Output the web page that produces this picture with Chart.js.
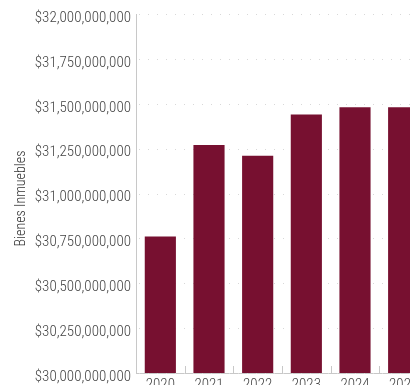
<!DOCTYPE html>
<html><head><meta charset="utf-8">
<script src="https://cdn.jsdelivr.net/npm/chart.js@4"></script>
<style>
html,body{margin:0;padding:0;overflow:hidden;background:#fff;width:410px;height:385px;}
#wrap{position:absolute;left:0;top:0;width:428px;height:398px;}
</style></head><body>
<div id="wrap"><canvas id="c" width="428" height="398"></canvas></div>
<script>
const categories = ["2020","2021","2022","2023","2024","2025"];
const bienesInmuebles = [30760000000, 31270000000, 31210000000, 31440000000, 31480000000, 31480000000];
const yMin = 30000000000, yMax = 32000000000, yStep = 250000000;
const yTitle = "Bienes Inmuebles";
const FONT = "Roboto Condensed";
new Chart(document.getElementById('c'), {
  type: 'bar',
  data: { labels: categories, datasets: [{ label: yTitle, data: bienesInmuebles, backgroundColor: '#771030', borderWidth: 0, barPercentage: 0.8, categoryPercentage: 0.8 }] },
  options: {
    responsive: false, animation: false, devicePixelRatio: 1,
    layout: { padding: { top: 9, right: 0, left: 0, bottom: 0 } },
    plugins: { legend: { display: false }, tooltip: { enabled: false } },
    scales: {
      x: {
        grid: { display: false, drawTicks: false },
        border: { color: '#c8c8c8' },
        ticks: { color: '#444', font: { family: FONT, size: 15, weight: 300 }, padding: 3 },
        afterFit: s => { s.height = 25; }
      },
      y: {
        min: yMin, max: yMax,
        grid: { display: false, drawTicks: false },
        border: { color: '#c8c8c8' },
        ticks: { stepSize: yStep, color: '#444', font: { family: FONT, size: 15, weight: 300 }, padding: 5, labelOffset: 4,
          callback: v => '$' + Number(v).toLocaleString('en-US') },
        afterFit: s => { s.width = 136; }
      }
    }
  },
  plugins: [{
    id: 'dotgrid',
    beforeDatasetsDraw(chart) {
      const {ctx, chartArea, scales} = chart;
      ctx.save();
      ctx.strokeStyle = '#d8d8d8'; ctx.lineWidth = 1; ctx.setLineDash([1, 8]);
      scales.y.ticks.forEach(t => {
        const py = Math.round(scales.y.getPixelForValue(t.value)) + 0.5;
        ctx.beginPath(); ctx.moveTo(chartArea.left + 3, py); ctx.lineTo(chartArea.right, py); ctx.stroke();
      });
      ctx.setLineDash([]);
      ctx.strokeStyle = '#c8c8c8';
      const xs = scales.x;
      for (let i = 0; i < categories.length - 1; i++) {
        const px = Math.round((xs.getPixelForValue(i) + xs.getPixelForValue(i + 1)) / 2) + 0.5;
        ctx.beginPath(); ctx.moveTo(px, chartArea.bottom); ctx.lineTo(px, chartArea.bottom - 7); ctx.stroke();
      }
      ctx.restore();
    },
    afterDraw(chart) {
      const {ctx, chartArea} = chart;
      ctx.save();
      ctx.translate(21, (chartArea.top + chartArea.bottom) / 2 + 5);
      ctx.rotate(-Math.PI / 2);
      ctx.font = '300 14px "' + FONT + '"';
      ctx.fillStyle = '#333'; ctx.textAlign = 'center'; ctx.textBaseline = 'middle';
      ctx.fillText(yTitle, 0, 0);
      ctx.restore();
    }
  }]
});
</script></body></html>
